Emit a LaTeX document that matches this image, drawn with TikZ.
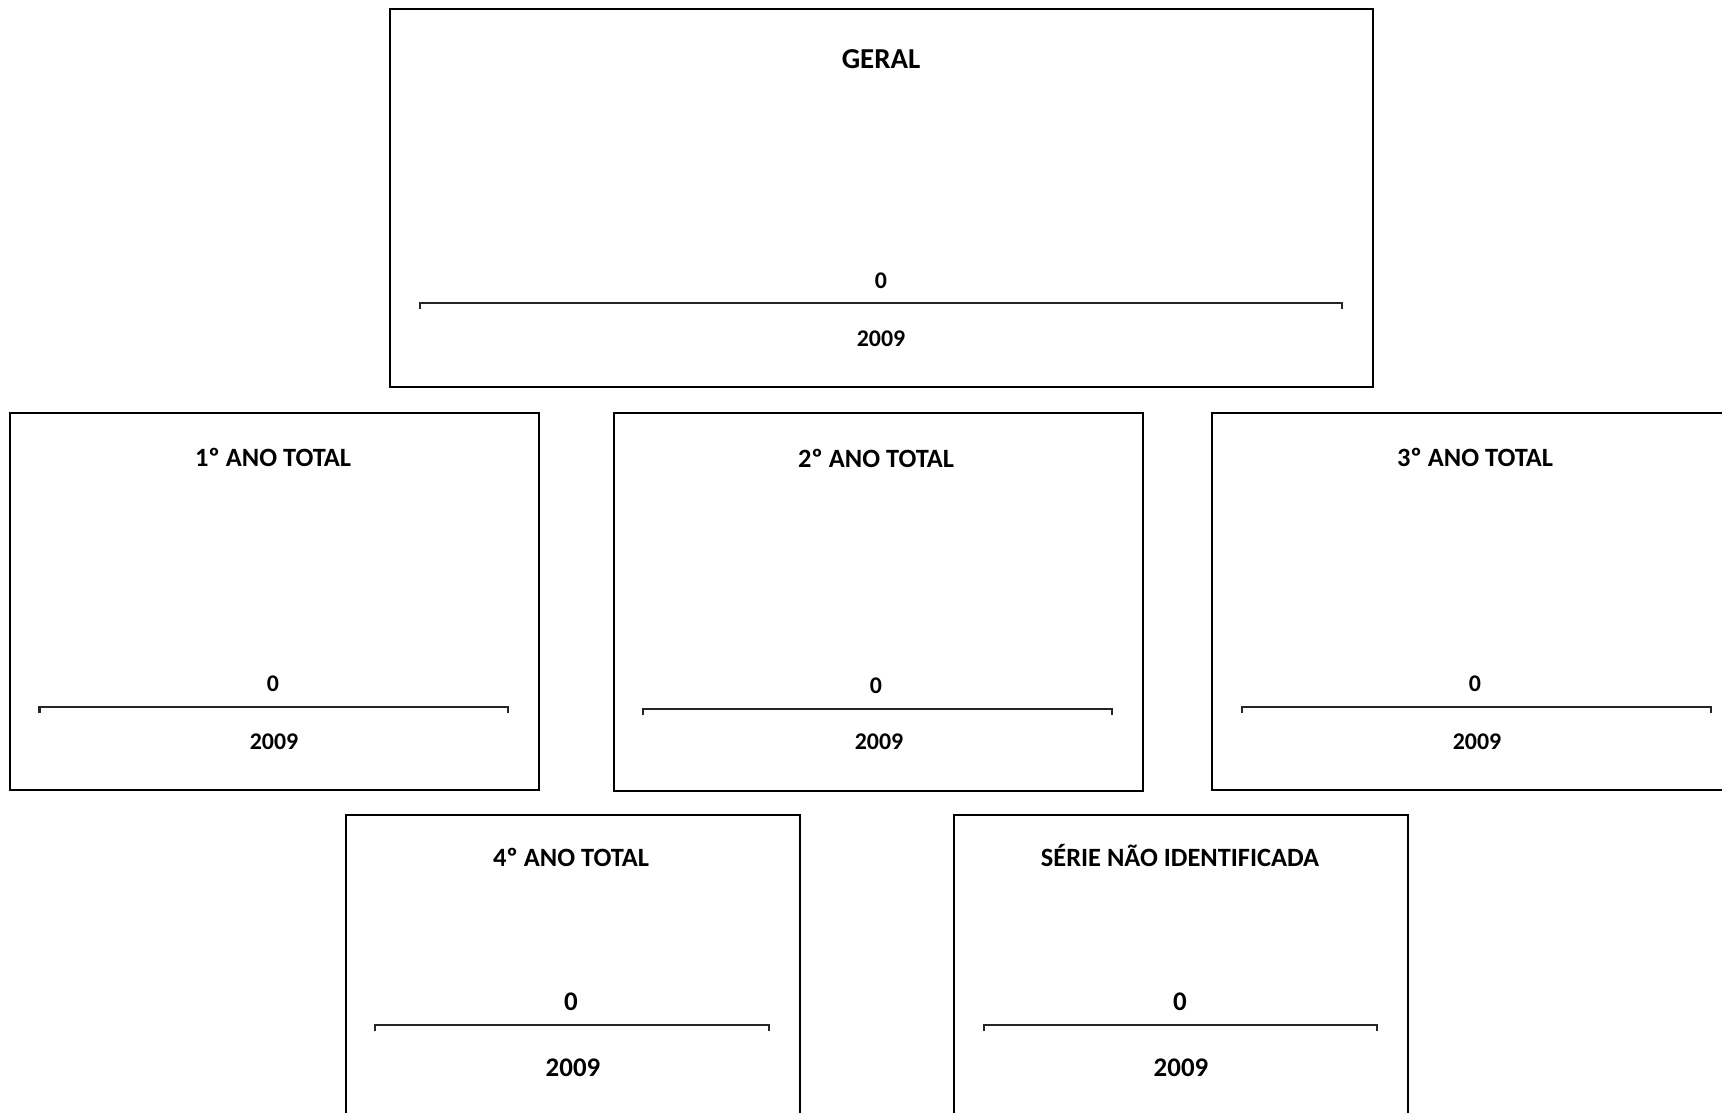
\documentclass[tikz,border=0pt]{standalone}
\usepackage{fontspec}
\setmainfont{Carlito}
\begin{document}
\begin{tikzpicture}[x=1bp,y=-1bp,
  panel/.style={draw=black,line width=1.2bp},
  ttl/.style={anchor=base,inner sep=0,font=\fontsize{26.5}{30}\selectfont\bfseries},
  ttlb/.style={anchor=base,inner sep=0,font=\fontsize{29}{33}\selectfont\bfseries},
  num/.style={anchor=base,inner sep=0,font=\fontsize{24}{28}\selectfont\bfseries},
  numb/.style={anchor=base,inner sep=0,font=\fontsize{27}{32}\selectfont\bfseries},
  axis/.style={draw=black!85,line width=2.8bp}]
\useasboundingbox (0,0) rectangle (1722,1112);
\clip (0,0) rectangle (1722,1112);
% GERAL
\draw[panel] (390,9) rectangle (1373,387);
\node[ttlb] (t0) at (881,68) {GERAL};
\node[num] (z0) at (881,288) {0};
\coordinate (a0l) at (420,303); \coordinate (a0r) at (1342,303);
\draw[axis] ([yshift=-6bp]a0l) -- (a0l) -- (a0r) -- ([yshift=-6bp]a0r);
\node[num] (y0) at (881,346) {2009};
% 1
\draw[panel] (10,413) rectangle (539,790);
\node[ttl] (t1) at (273,466) {1º ANO TOTAL};
\node[num] (z1) at (273,691) {0};
\coordinate (a1l) at (39.5,707); \coordinate (a1r) at (508,707);
\draw[axis] ([yshift=-6bp]a1l) -- (a1l) -- (a1r) -- ([yshift=-6bp]a1r);
\node[num] (y1) at (274,749) {2009};
% 2
\draw[panel] (614,413) rectangle (1143,791);
\node[ttl] (t2) at (876,467) {2º ANO TOTAL};
\node[num] (z2) at (876,693) {0};
\coordinate (a2l) at (643,709); \coordinate (a2r) at (1112,709);
\draw[axis] ([yshift=-6bp]a2l) -- (a2l) -- (a2r) -- ([yshift=-6bp]a2r);
\node[num] (y2) at (879,749) {2009};
% 3
\draw[panel] (1212,413) rectangle (1760,790);
\node[ttl] (t3) at (1475,466) {3º ANO TOTAL};
\node[num] (z3) at (1475,691) {0};
\coordinate (a3l) at (1242,707); \coordinate (a3r) at (1711,707);
\draw[axis] ([yshift=-6bp]a3l) -- (a3l) -- (a3r) -- ([yshift=-6bp]a3r);
\node[num] (y3) at (1477,749) {2009};
% 4
\draw[panel] (346,815) rectangle (800,1140);
\node[ttl] (t4) at (571,866) {4º ANO TOTAL};
\node[numb] (z4) at (571,1010) {0};
\coordinate (a4l) at (375,1025); \coordinate (a4r) at (769,1025);
\draw[axis] ([yshift=-6bp]a4l) -- (a4l) -- (a4r) -- ([yshift=-6bp]a4r);
\node[numb] (y4) at (573,1076) {2009};
% 5
\draw[panel] (954,815) rectangle (1408,1140);
\node[ttl] (t5) at (1180,866) {SÉRIE NÃO IDENTIFICADA};
\node[numb] (z5) at (1180,1010) {0};
\coordinate (a5l) at (984,1025); \coordinate (a5r) at (1377,1025);
\draw[axis] ([yshift=-6bp]a5l) -- (a5l) -- (a5r) -- ([yshift=-6bp]a5r);
\node[numb] (y5) at (1181,1076) {2009};
\end{tikzpicture}
\end{document}
